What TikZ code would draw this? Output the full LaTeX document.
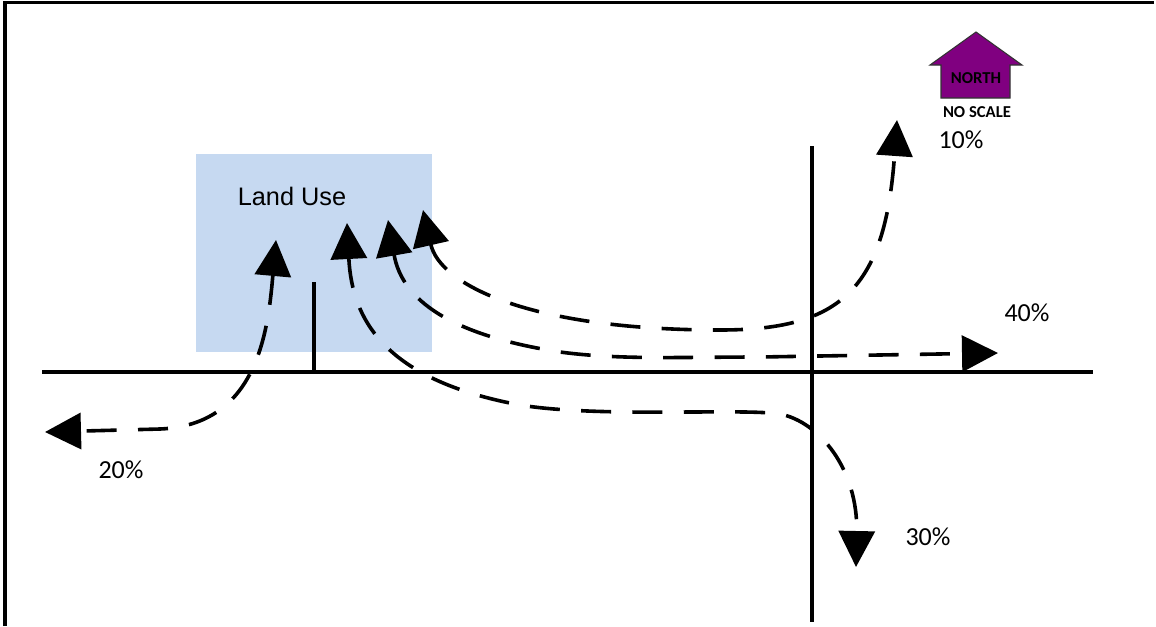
\documentclass[tikz,border=0pt]{standalone}
\usepackage{fontspec}
\setmainfont{Carlito}
\newfontfamily\arialfont{Liberation Sans}
\usetikzlibrary{arrows.meta}
\definecolor{landblue}{RGB}{198,217,241}
\definecolor{northpurple}{RGB}{128,0,128}
\tikzset{
  road/.style={line width=2.4pt},
  trip/.style={line width=2.7pt, dash pattern=on 22.5pt off 16pt,
    {Triangle[length=27pt,width=27pt]}-{Triangle[length=27pt,width=27pt]}},
  pct/.style={font=\fontsize{19.5}{22}\selectfont, inner sep=0pt},
  frameline/.style={line width=2.4pt}
}
\begin{document}
\begin{tikzpicture}[x=0.75pt,y=-0.75pt]
\useasboundingbox (0,0) rectangle (1156,626);
% frame
\draw[frameline] (5,626) -- (5,2.5) -- (1154,2.5);
% land use box
\fill[landblue] (196,154) rectangle (432,352);
\node[font=\arialfont\fontsize{19}{22}\selectfont, inner sep=0pt] (lu) at (292,196) {Land Use};
% roads
\coordinate (rw) at (42,372);
\coordinate (re) at (1093,372);
\coordinate (rn) at (812,146);
\coordinate (rs) at (812,622);
\coordinate (dtop) at (314,282);
\coordinate (dbot) at (314,372);
\draw[road] (rw) -- (re);
\draw[road] (rn) -- (rs);
\draw[road] (dtop) -- (dbot);
% trip end points
\coordinate (a20in) at (276,240);
\coordinate (a20out) at (45,432);
\coordinate (a30in) at (347,223);
\coordinate (a30out) at (856,567);
\coordinate (a40in) at (388,220);
\coordinate (a40out) at (998,353);
\coordinate (a10in) at (423,210);
\coordinate (a10out) at (897,120);
% 20% west
\draw[trip] (a20in) .. controls (268,330) and (258,425) .. (160,429) -- (a20out);
% 30% south
\draw[trip] (a30in) .. controls (352,320) and (385,380) .. (520,405)
  .. controls (600,418) and (740,408) .. (780,414)
  .. controls (820,422) and (858,470) .. (a30out);
% 40% east
\draw[trip] (a40in) .. controls (402,300) and (450,335) .. (560,352)
  .. controls (620,360) and (680,357) .. (760,357) -- (a40out);
% 10% north
\draw[trip] (a10in) .. controls (440,285) and (530,330) .. (720,330)
  .. controls (840,330) and (885,290) .. (a10out);
% labels
\node[pct] (l10) at (961,140) {10\%};
\node[pct] (l40) at (1027,313) {40\%};
\node[pct] (l20) at (121,470) {20\%};
\node[pct] (l30) at (928,537) {30\%};
% north arrow
\draw[fill=northpurple, draw=black!80, line width=0.8pt]
  (976,32) -- (1022,65) -- (1010,65) -- (1010,98) -- (941,98) -- (941,65) -- (930,65) -- cycle;
\node[font=\bfseries\fontsize{12.5}{14}\selectfont, inner sep=0pt] (north) at (976,78) {NORTH};
\node[font=\bfseries\fontsize{12.5}{14}\selectfont, inner sep=0pt] (noscale) at (977,112) {NO SCALE};
\end{tikzpicture}
\end{document}
